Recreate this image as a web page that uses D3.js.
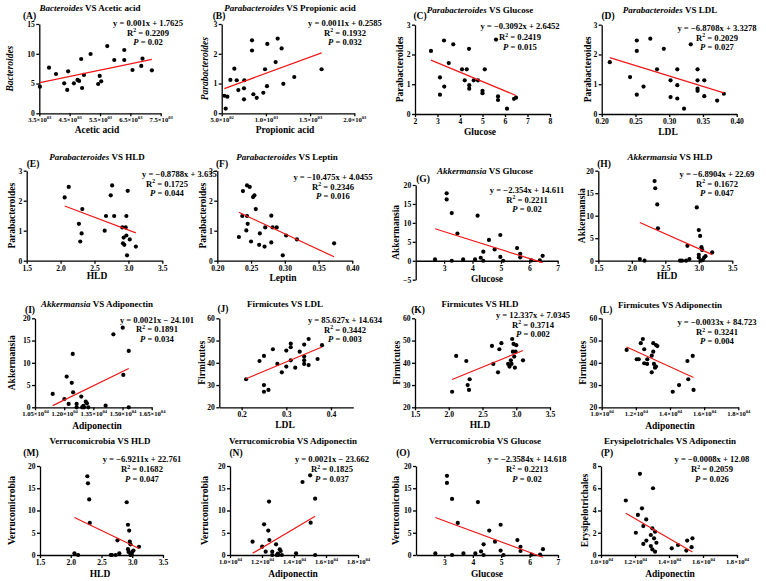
<!DOCTYPE html>
<html><head><meta charset="utf-8">
<script src="https://cdn.jsdelivr.net/npm/d3@7"></script>
<style>body{margin:0;background:#fff}svg{display:block}</style>
</head><body><svg id="c" width="766" height="581"></svg>
<script>
// ---------------- DATA ----------------
const aceticA = [3520,3820,4050,4320,4420,4450,4640,4760,4810,4880,4910,4970,5190,5440,5490,5540,5740,5970,6300,6300,6570,6860,6900,7210];
const bactA   = [4.48,7.67,6.6,5.04,3.92,7.05,5.04,5.6,5.43,9.12,4.25,6.44,9.96,4.92,6.27,5.37,11.3,8.95,10.63,8.95,7.27,7.95,9.18,7.22];
const propB   = [530,564,545,598,643,670,688,752,756,752,843,843,858,896,971,990,1012,1016,1110,1133,1178,1197,1321,1630];
const paraB   = [0.59,0.56,0.16,1.12,1.50,1.11,0.78,0.84,1.11,0.47,2.45,2.11,0.64,0.52,0.69,1.48,0.91,2.33,1.72,2.51,2.18,0.99,1.22,1.48];
const gluC    = [2.71,3.11,3.11,3.29,3.30,3.50,3.70,4.09,4.21,4.30,4.40,4.41,4.41,4.61,4.80,5.00,5.00,5.10,5.60,5.69,5.69,6.09,6.40,6.49];
const paraC   = [2.12,1.23,0.65,2.47,0.92,1.71,2.34,1.50,1.13,1.50,2.19,0.97,0.85,1.13,1.13,0.78,0.70,1.50,2.50,0.59,0.47,0.18,0.51,0.55];
const ldlD    = [0.212,0.242,0.252,0.252,0.252,0.262,0.272,0.292,0.282,0.302,0.302,0.312,0.312,0.312,0.322,0.332,0.342,0.342,0.342,0.342,0.352,0.352,0.371,0.381];
const paraD   = [1.74,1.24,2.47,2.12,0.65,0.92,2.53,2.19,1.50,1.13,0.57,1.50,0.97,0.52,0.18,2.34,1.50,1.13,0.85,0.78,1.13,0.60,0.45,0.68];
const hldE    = [2.06,2.12,2.27,2.29,2.31,2.32,2.65,2.67,2.74,2.76,2.79,2.91,2.92,2.93,2.94,2.96,2.97,2.97,2.99,2.98,3.02,3.11];
const paraE   = [2.11,2.46,1.23,0.64,0.91,1.72,1.00,1.49,2.18,2.51,1.49,1.11,0.58,0.77,0.53,1.11,1.49,0.84,2.33,0.18,0.71,0.47];
const lepF    = [0.232,0.238,0.237,0.243,0.244,0.244,0.245,0.248,0.250,0.253,0.255,0.257,0.262,0.263,0.270,0.271,0.280,0.280,0.282,0.288,0.297,0.302,0.318,0.373];
const paraF   = [0.79,2.32,1.49,1.01,2.51,1.49,1.23,2.46,0.64,2.12,2.18,1.72,0.53,0.91,0.47,1.11,1.50,0.61,1.11,1.11,0.18,0.84,0.71,0.58];
const gluG    = [2.68,3.09,3.09,3.27,3.27,3.47,3.67,4.09,4.18,4.29,4.38,4.38,4.58,4.78,4.98,4.98,5.08,5.57,5.68,5.68,6.07,6.37,6.47];
const akkG    = [0.35,17.8,16.2,0,12.6,7.2,0.35,0.35,11.9,0.8,2.4,0,5.5,3.0,6.8,1.0,0,3.35,1.85,0.9,0.1,0.1,1.3];
const hldH    = [2.12,2.19,2.34,2.35,2.38,2.39,2.72,2.75,2.81,2.83,2.86,2.97,3.00,3.02,3.04,3.05,3.00,3.00,3.03,3.06,3.08,3.10,3.20];
const akkH    = [0.37,0,17.7,16.1,12.5,7.2,0,0,0,3.3,0.37,11.85,6.8,5.5,3.0,2.4,1.3,0.7,0,0.15,0.7,1.0,1.85];
const adiI    = [11410,12010,12130,12230,12390,12440,12460,12640,12640,12880,12920,12990,13020,13110,13170,13240,14130,14530,15010,15040,15320,15320];
const akkI    = [3.0,1.87,6.9,0.75,5.5,12.0,3.37,0.75,0,2.4,0,0.3,0,1.27,0.9,0,0.37,16.4,17.9,7.27,12.66,0];
const ldlJ    = [0.21,0.24,0.25,0.25,0.25,0.26,0.27,0.28,0.29,0.30,0.30,0.31,0.31,0.31,0.32,0.33,0.34,0.34,0.34,0.34,0.35,0.35,0.37,0.38];
const firJ    = [32.6,40.8,43.1,30.0,27.0,27.8,46.1,39.5,35.7,45.5,38.3,48.6,47.0,41.1,37.8,45.0,48.2,42.8,41.1,39.5,50.7,39.0,41.7,47.9];
const hldK    = [2.05,2.11,2.26,2.28,2.30,2.31,2.64,2.66,2.73,2.75,2.78,2.88,2.90,2.92,2.93,2.94,2.95,2.96,2.97,2.98,2.99,3.00,3.10];
const firK    = [27.0,43.1,40.8,30.0,27.8,32.6,47.6,39.5,35.7,46.1,48.8,39.5,38.3,41.1,39.5,50.7,45.0,48.5,42.8,37.8,45.0,47.9,41.1];
const adiL    = [11460,12050,12170,12290,12410,12490,12490,12660,12670,12930,12930,13020,13020,13060,13120,13180,13180,13260,14160,14530,15020,15070,15330,15380];
const firL    = [45.8,41.6,41.6,48.8,50.7,46.1,39.8,39.5,41.6,43.2,35.7,45.0,48.8,39.5,37.8,48.0,38.3,47.5,27.0,30.0,40.8,32.6,43.1,27.8];
const hldM    = [2.06,2.12,2.27,2.28,2.30,2.31,2.65,2.67,2.73,2.76,2.79,2.91,2.93,2.95,2.96,2.97,2.93,2.94,2.97,2.99,3.00,3.02,3.11];
const verM    = [0.37,0,17.7,16.1,12.5,7.2,0,0,0,3.3,0.37,11.85,6.8,5.5,3.0,2.4,1.3,0.7,0,0.15,0.7,1.0,1.85];
const adiN    = [11410,12010,12130,12230,12390,12440,12460,12640,12640,12880,12920,12990,13020,13110,13170,13240,14130,14530,15010,15040,15320,15320];
const verN    = [3.0,1.87,6.9,0.75,5.5,12.0,3.37,0.75,0,2.4,0,0.3,0,1.27,0.9,0,0.37,16.4,17.9,7.27,12.66,0];
const gluO    = [2.68,3.09,3.09,3.27,3.27,3.47,3.67,4.09,4.18,4.29,4.38,4.38,4.58,4.78,4.98,4.98,5.08,5.57,5.68,5.68,6.07,6.37,6.47];
const verO    = [0.35,17.8,16.2,0,12.6,7.2,0.35,0.35,11.9,0.8,2.4,0,5.5,3.0,6.8,1.0,0,3.35,1.85,0.9,0.1,0.1,1.3];
const adiP    = [11460,12050,12170,12290,12410,12490,12490,12660,12670,12930,12930,13020,13020,13060,13120,13180,13180,13260,14160,14530,15020,15070,15330,15380];
const eryP    = [4.9,2.0,3.6,7.3,4.2,1.0,2.6,3.2,1.3,1.8,0.8,2.4,0.5,6.0,1.5,2.1,0.3,1.1,0.6,0.9,0.4,1.3,0.7,1.5];

// tick values
const ticks0to3 = [0,1,2,3];
const ticks0to20 = [0,5,10,15,20];
const ticksM5to20 = [-5,0,5,10,15,20];
const ticks20to60 = [20,30,40,50,60];
const ticksHLD = [1.5,2.0,2.5,3.0,3.5];
const ticksLDL = [0.20,0.25,0.30,0.35,0.40];
const ticksAdi = [10000,12000,14000,16000,18000];
const ticksAdiI = [10500,12000,13500,15000,16500];
const ticksAcetic = [3500,4500,5500,6500,7500];
const ticksProp = [500,1000,1500,2000];

// equations [line, R2, P]
const eqs = {
 A:['y = 0.001x + 1.7625','0.2209','0.02'], B:['y = 0.0011x + 0.2585','0.1932','0.032'],
 C:['y = \u22120.3092x + 2.6452','0.2419','0.015'], D:['y = \u22126.8708x + 3.3278','0.2029','0.027'],
 E:['y = \u22120.8788x + 3.635','0.1725','0.044'], F:['y = \u221210.475x + 4.0455','0.2346','0.016'],
 G:['y = \u22122.354x + 14.611','0.2211','0.02'], H:['y = \u22126.8904x + 22.69','0.1672','0.047'],
 I:['y = 0.0021x \u2212 24.101','0.1891','0.034'], J:['y = 85.627x + 14.634','0.3442','0.003'],
 K:['y = 12.337x + 7.0345','0.3714','0.002'], L:['y = \u22120.0033x + 84.723','0.3241','0.004'],
 M:['y = \u22126.9211x + 22.761','0.1682','0.047'], N:['y = 0.0021x \u2212 23.662','0.1825','0.037'],
 O:['y = \u22122.3584x + 14.618','0.2213','0.02'], P:['y = \u22120.0008x + 12.08','0.2059','0.026']
};

// ---------------- PANEL SPECS ----------------
const r4 = {t:466,b:555,ty:444,ly:456,ey:[462,472,482]};
const panels = [
 {id:'A',x:aceticA,y:bactA,g:'Bacteroides',gi:true,vs:' VS Acetic acid',yl:'Bacteroides',yli:true,xl:'Acetic acid',
  xd:[3500,7500],xt:ticksAcetic,xs:1,yd:[0,15],yt:[0,5,10,15],
  l:39.3,r:160.7,t:24,b:113.3,tx:90,ty:10.5,lx:29.5,ly:19,ex:148,ey:[26,35.5,45],yx:10,xlx:97,xly:133},
 {id:'B',x:propB,y:paraB,g:'Parabacteroides',gi:true,vs:' VS Propionic acid',yl:'Parabacteroides',yli:true,xl:'Propionic acid',
  xd:[500,2000],xt:ticksProp,xs:1,yd:[0,3],yt:ticks0to3,
  l:221.7,r:354.3,t:24,b:113.3,tx:290,ty:10.5,lx:219,ly:19,ex:345,ey:[26,35.5,45],yx:205,xlx:285,xly:133},
 {id:'C',x:gluC,y:paraC,g:'Parabacteroides',gi:true,vs:' VS Glucose',yl:'Parabacteroides',xl:'Glucose',
  xd:[2,8],xt:[2,3,4,5,6,7,8],xf:'d',yd:[0,3],yt:ticks0to3,
  l:415,r:550,t:24.7,b:114,tx:480,ty:13,lx:420,ly:18.5,ex:520,ey:[29,40,50],yx:400,xlx:480,xly:135},
 {id:'D',x:ldlD,y:paraD,g:'Parabacteroides',gi:true,vs:' VS LDL',yl:'Parabacteroides',xl:'LDL',
  xd:[0.2,0.4],xt:ticksLDL,xf:'.2f',yd:[0,3],yt:ticks0to3,
  l:601.7,r:736.7,t:24.7,b:114,tx:670,ty:13,lx:608,ly:19,ex:717,ey:[31,40.5,50],yx:588,xlx:668,xly:135},
 {id:'E',x:hldE,y:paraE,g:'Parabacteroides',gi:true,vs:' VS HLD',yl:'Parabacteroides',xl:'HLD',
  xd:[1.5,3.5],xt:ticksHLD,xf:'.1f',yd:[0,3],yt:ticks0to3,eqStart:142,
  l:26.7,r:162.3,t:170.7,b:260.7,tx:97,ty:160,lx:33,ly:167,ex:167,ey:[177,186.5,196],yx:12,xlx:97,xly:279},
 {id:'F',x:lepF,y:paraF,g:'Parabacteroides',gi:true,vs:' VS Leptin',yl:'Parabacteroides',xl:'Leptin',
  xd:[0.2,0.4],xt:ticksLDL,xf:'.2f',yd:[0,3],yt:ticks0to3,
  l:217.3,r:352.3,t:170.7,b:260.7,tx:287,ty:160,lx:222,ly:167,ex:333,ey:[180,189.5,199],yx:203,xlx:283,xly:281},
 {id:'G',x:gluG,y:akkG,g:'Akkermansia',gi:true,vs:' VS Glucose',yl:'Akkermansia',xl:'Glucose',
  xd:[2,7],xt:[3,4,5,6,7],xf:'d',yd:[-5,20],yt:ticksM5to20,xAt:0,
  l:415.7,r:557.7,t:185,b:279.7,tx:485,ty:174,lx:423,ly:182,ex:527,ey:[192.5,202.5,212],yx:396,xlx:487,xly:281.5},
 {id:'H',x:hldH,y:akkH,g:'Akkermansia',gi:true,vs:' VS HLD',yl:'Akkermansia',xl:'HLD',
  xd:[1.5,3.5],xt:ticksHLD,xf:'.1f',yd:[0,20],yt:ticks0to20,
  l:598.3,r:732.3,t:170.7,b:260.7,tx:670,ty:160,lx:604,ly:167,ex:717,ey:[177,186.5,196],yx:582,xlx:667,xly:279},
 {id:'I',x:adiI,y:akkI,g:'Akkermansia',gi:true,vs:' VS Adiponectin',yl:'Akkermansia',xl:'Adiponectin',
  xd:[10500,16500],xt:ticksAdiI,xs:2,yd:[0,20],yt:ticks0to20,
  l:35,r:151.7,t:318.3,b:407.3,tx:97,ty:307,lx:30,ly:313,ex:157,ey:[322.5,332,341.5],yx:12,xlx:97,xly:429},
 {id:'J',x:ldlJ,y:firJ,g:'Firmicutes',vs:' VS LDL',yl:'Firmicutes',xl:'LDL',
  xd:[0.15,0.45],xt:[0.2,0.3,0.4],xf:'.1f',yd:[20,60],yt:ticks20to60,
  l:219.3,r:353.3,t:318.3,b:407.3,tx:285,ty:307,lx:223,ly:312,ex:345,ey:[322.5,332.5,342],yx:202,xlx:285,xly:428},
 {id:'K',x:hldK,y:firK,g:'Firmicutes',vs:' VS HLD',yl:'Firmicutes',xl:'HLD',
  xd:[1.5,3.5],xt:ticksHLD,xf:'.1f',yd:[20,60],yt:ticks20to60,
  l:415,r:550,t:318.3,b:407.3,tx:480,ty:307,lx:418,ly:313,ex:533,ey:[318,327.5,337],yx:397,xlx:480,xly:428},
 {id:'L',x:adiL,y:firL,g:'Firmicutes',vs:' VS Adiponectin',yl:'Firmicutes',xl:'Adiponectin',
  xd:[10000,18000],xt:ticksAdi,xs:1,yd:[20,60],yt:ticks20to60,
  l:601.7,r:738.3,t:318.3,b:407.3,tx:670,ty:308,lx:606,ly:313,ex:717,ey:[325,335,344],yx:583,xlx:670,xly:429},
 {id:'M',x:hldM,y:verM,g:'Verrucomicrobia',vs:' VS HLD',yl:'Verrucomicrobia',xl:'HLD',
  xd:[1.5,3.5],xt:ticksHLD,xf:'.1f',yd:[0,20],yt:ticks0to20,
  l:40,r:163,t:r4.t,b:r4.b,tx:100,ty:r4.ty,lx:31,ly:r4.ly,ex:142,ey:r4.ey,yx:12,xlx:100,xly:577},
 {id:'N',x:adiN,y:verN,g:'Verrucomicrobia',vs:' VS Adiponectin',yl:'Verrucomicrobia',xl:'Adiponectin',
  xd:[10000,18000],xt:ticksAdi,xs:1,yd:[0,20],yt:ticks0to20,
  l:230,r:358,t:r4.t,b:r4.b,tx:293,ty:r4.ty,lx:236,ly:r4.ly,ex:332,ey:r4.ey,yx:205,xlx:293,xly:577},
 {id:'O',x:gluO,y:verO,g:'Verrucomicrobia',vs:' VS Glucose',yl:'Verrucomicrobia',xl:'Glucose',
  xd:[2,7],xt:[3,4,5,6,7],xf:'d',yd:[0,20],yt:ticks0to20,
  l:416,r:558,t:r4.t,b:r4.b,tx:485,ty:r4.ty,lx:403,ly:r4.ly,ex:527,ey:r4.ey,yx:396,xlx:487,xly:577},
 {id:'P',x:adiP,y:eryP,g:'Erysipelotrichales',vs:' VS Adiponectin',yl:'Erysipelotrichales',xl:'Adiponectin',
  xd:[10000,18000],xt:ticksAdi,xs:1,yd:[0,8],yt:[0,2,4,6,8],
  l:601,r:737,t:r4.t,b:r4.b,tx:670,ty:r4.ty,lx:607,ly:r4.ly,ex:712,ey:r4.ey,yx:585,xlx:670,xly:577}
];

// ---------------- DRAW ----------------
const FONT = '"Liberation Serif","Times New Roman",serif';
const svg = d3.select('#c').attr('font-family', FONT);

function fit(xs, ys){
  const n = xs.length, mx = d3.mean(xs), my = d3.mean(ys);
  let sxy=0, sxx=0;
  for(let i=0;i<n;i++){ sxy += (xs[i]-mx)*(ys[i]-my); sxx += (xs[i]-mx)**2; }
  const b = sxy/sxx; return {b, a: my - b*mx};
}

panels.forEach(p => {
  const g = svg.append('g');
  const x = d3.scaleLinear().domain(p.xd).range([p.l, p.r]);
  const y = d3.scaleLinear().domain(p.yd).range([p.b, p.t]);
  const xAxisY = p.xAt !== undefined ? y(p.xAt) : p.b;

  const xa = d3.axisBottom(x).tickValues(p.xt).tickSize(3).tickSizeOuter(0).tickPadding(1.5);
  if (p.xs) xa.tickFormat(() => ''); else xa.tickFormat(d3.format(p.xf));
  const gx = g.append('g').attr('transform', `translate(0,${xAxisY})`).call(xa);
  if (p.xs) {
    gx.selectAll('.tick text').each(function(d){
      const e = Math.floor(Math.log10(d) + 1e-9);
      const m = (d / Math.pow(10, e)).toFixed(p.xs);
      const t = d3.select(this);
      t.append('tspan').text(m + '\u00d710');
      t.append('tspan').attr('dy', -3).attr('font-size', 4.6).text(String(e).padStart(2, '0'));
    });
    gx.selectAll('.tick text').attr('font-size', 6.6);
  } else {
    gx.selectAll('.tick text').attr('font-size', 7.6);
  }
  const gy = g.append('g').attr('transform', `translate(${p.l},0)`)
    .call(d3.axisLeft(y).tickValues(p.yt).tickSize(3).tickSizeOuter(0).tickPadding(1.5).tickFormat(d3.format('d')));
  gy.selectAll('.tick text').attr('font-size', 7.6);
  g.selectAll('.domain, .tick line').attr('stroke', '#000').attr('stroke-width', 1.3);
  g.selectAll('.tick text').attr('font-family', FONT).attr('font-weight', 'bold').attr('fill', '#000');

  // points
  g.append('g').selectAll('circle').data(p.x.map((v,i)=>[v,p.y[i]])).join('circle')
    .attr('cx', d => x(d[0])).attr('cy', d => y(d[1])).attr('r', 2.1).attr('fill', '#000');

  // regression
  const f = fit(p.x, p.y);
  const [x0, x1] = d3.extent(p.x);
  g.append('line').attr('x1', x(x0)).attr('y1', y(f.a + f.b*x0)).attr('x2', x(x1)).attr('y2', y(f.a + f.b*x1))
    .attr('stroke', '#f01818').attr('stroke-width', 1.2);

  // title
  const tt = g.append('text').attr('x', p.tx).attr('y', p.ty).attr('text-anchor','middle')
    .attr('font-size', 9).attr('font-weight','bold');
  tt.append('tspan').attr('font-style', p.gi ? 'italic' : 'normal').text(p.g);
  tt.append('tspan').text(p.vs);

  // panel label
  g.append('text').attr('x', p.lx).attr('y', p.ly).attr('text-anchor','middle')
    .attr('font-size', 9.5).attr('font-weight','bold').text('(' + p.id + ')');

  // equation block
  const e = eqs[p.id];
  g.append('text').attr('x', p.eqStart || p.ex).attr('y', p.ey[0])
    .attr('text-anchor', p.eqStart ? 'start' : 'middle')
    .attr('font-size', 8.6).attr('font-weight','bold').text(e[0]);
  const r2 = g.append('text').attr('x', p.ex).attr('y', p.ey[1]).attr('text-anchor','middle')
    .attr('font-size', 8.6).attr('font-weight','bold');
  r2.append('tspan').text('R');
  r2.append('tspan').attr('dy', -3.2).attr('font-size', 5.8).text('2');
  r2.append('tspan').attr('dy', 3.2).text(' = ' + e[1]);
  const pv = g.append('text').attr('x', p.ex).attr('y', p.ey[2]).attr('text-anchor','middle')
    .attr('font-size', 8.6).attr('font-weight','bold');
  pv.append('tspan').attr('font-style','italic').text('P');
  pv.append('tspan').text(' = ' + e[2]);

  // axis titles
  g.append('text').attr('x', p.xlx).attr('y', p.xly).attr('text-anchor','middle')
    .attr('font-size', 9.5).attr('font-weight','bold').text(p.xl);
  g.append('text').attr('transform', `translate(${p.yx},${(p.t+p.b)/2}) rotate(-90)`)
    .attr('text-anchor','middle').attr('dy', '0.35em')
    .attr('font-size', 9.5).attr('font-weight','bold').attr('font-style', p.yli ? 'italic' : 'normal').text(p.yl);
});
</script></body></html>
